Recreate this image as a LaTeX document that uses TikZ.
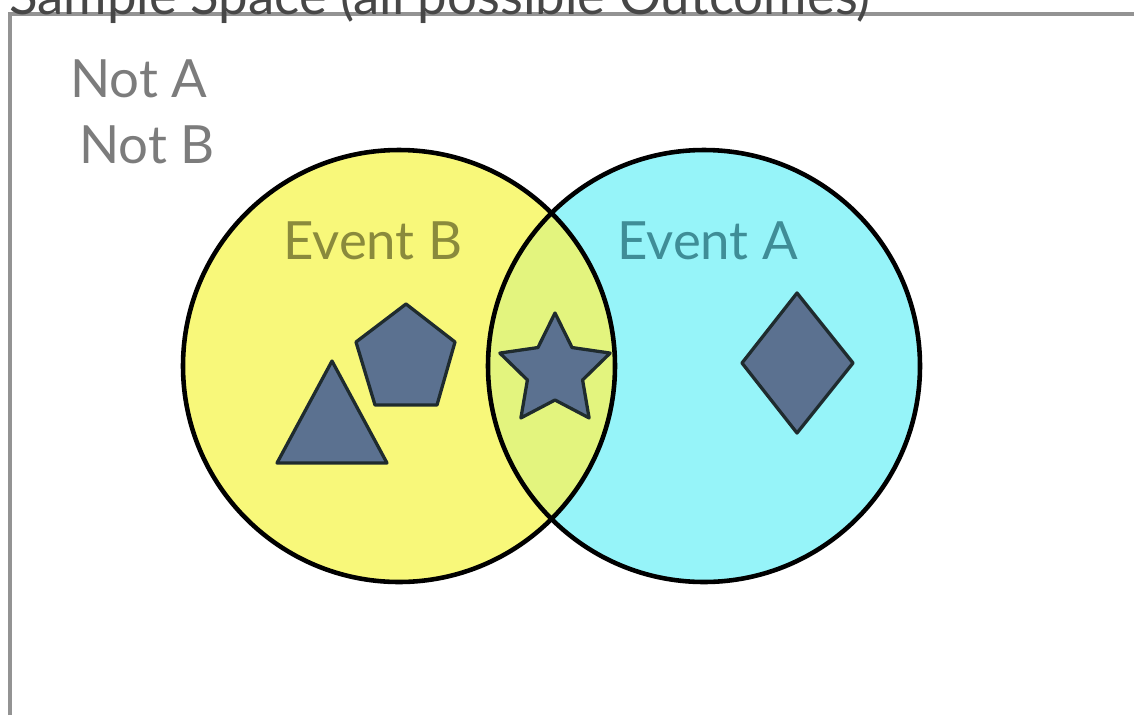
\documentclass[tikz,border=0pt]{standalone}
\usepackage{fontspec}
\setmainfont{Lato}
\definecolor{ybg}{HTML}{F8F87A}
\definecolor{cbg}{HTML}{96F4F9}
\definecolor{lens}{HTML}{E3F47E}
\definecolor{shp}{HTML}{5B7190}
\definecolor{shpline}{HTML}{1F2B2E}
\definecolor{frame}{HTML}{939393}
\definecolor{btext}{HTML}{8A8A3C}
\definecolor{atext}{HTML}{3F8D97}
\definecolor{ntext}{HTML}{7C7C7C}
\tikzset{
  ring/.style={draw=black, line width=3.9pt},
  token/.style={fill=shp, draw=shpline, line width=2.8pt, line join=round},
  lbl/.style={font=\fontsize{45}{50}\selectfont, inner sep=0pt, anchor=base west},
}
\begin{document}
\begin{tikzpicture}[x=0.03cm, y=-0.03cm]
\useasboundingbox (0,0) rectangle (1134,715);
\fill[white] (0,0) rectangle (1134,715);
% frame
\draw[frame, line width=3.6pt] (10,715) -- (10,14) -- (1140,14);
\node[lbl, text=black!72] (title) at (9,14) {Sample Space (all possible Outcomes)};
% circles
\fill[ybg] (399,366) circle (216);
\fill[cbg] (704,366) circle (216);
\begin{scope}
  \clip (399,366) circle (216);
  \fill[lens] (704,366) circle (216);
\end{scope}
\draw[ring] (399,366) circle (216);
\draw[ring] (704,366) circle (216);
% labels
\node[lbl, text=ntext] (nota) at (70,97) {Not A};
\node[lbl, text=ntext] (notb) at (79,163) {Not B};
\node[lbl, text=btext] (evb) at (283,259) {Event B};
\node[lbl, text=atext] (eva) at (617,259) {Event A};
% tokens
\draw[token] (332,361) -- (387,463) -- (277,463) -- cycle;
\draw[token] (406,304) -- (455,342) -- (437,405) -- (375,405) -- (356,342) -- cycle;
\draw[token] (555,313)
  \foreach \k in {1,...,9} {
    -- ({555+(mod(\k,2)==1 ? 29 : 58)*sin(36*\k)}, {371-(mod(\k,2)==1 ? 29 : 58)*cos(36*\k)})
  } -- cycle;
\draw[token] (797,293) -- (853,363) -- (797,433) -- (742,363) -- cycle;
\end{tikzpicture}
\end{document}
